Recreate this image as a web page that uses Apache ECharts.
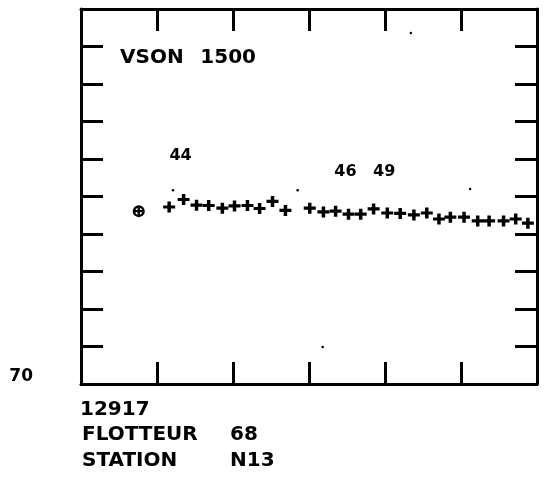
<!DOCTYPE html>
<html>
<head>
<meta charset="utf-8">
<script src="https://cdn.jsdelivr.net/npm/echarts@6/dist/echarts.min.js"></script>
<style>
html,body{margin:0;padding:0;background:#fff;}
#chart{width:545px;height:482px;}
</style>
</head>
<body>
<div id="chart"></div>
<script>
// ---- data ----
const xMin = 0, xMax = 60, xStep = 10;
const yMin = 70, yMax = 80, yStep = 1;
const yTickLabels = ['70'];

const startX = [7.6];
const startY = [74.61];

const crossX = [11.6, 13.5, 15.2, 16.8, 18.6, 20.2, 21.9, 23.5, 25.2, 26.9,
                30.1, 31.9, 33.5, 35.2, 36.8, 38.5, 40.3, 42.0, 43.8, 45.5,
                47.1, 48.6, 50.4, 52.2, 53.7, 55.6, 57.2, 58.8];
const crossY = [74.72, 74.92, 74.77, 74.76, 74.69, 74.75, 74.76, 74.68, 74.87, 74.63,
                74.69, 74.59, 74.61, 74.53, 74.53, 74.67, 74.56, 74.55, 74.51, 74.56,
                74.40, 74.45, 74.45, 74.35, 74.35, 74.35, 74.40, 74.29];

const noteX = [13.1, 34.8, 39.9];
const noteY = [76.08, 75.65, 75.65];
const noteText = ['44', '46', '49'];

const dotX = [12.1, 28.5, 51.2, 43.4, 31.8];
const dotY = [75.17, 75.17, 75.20, 79.36, 70.99];

const titleText = ['VSON', '1500'];
const footText = ['12917', 'FLOTTEUR', '68', 'STATION', 'N13'];

// ---- chart ----
const FONT = 'DejaVu Sans';
const zip = (a, b) => a.map((v, i) => [v, b[i]]);
const plus = 'path://M4.25,0 L7.75,0 L7.75,4.25 L12,4.25 L12,7.75 L7.75,7.75 L7.75,12 L4.25,12 L4.25,7.75 L0,7.75 L0,4.25 L4.25,4.25 Z';

function xAx(pos) {
  return {
    type: 'value', min: xMin, max: xMax, interval: xStep, position: pos,
    axisLine: {show: true, onZero: false, lineStyle: {color: '#000', width: 3}},
    axisTick: {show: true, inside: true, length: 22, lineStyle: {color: '#000', width: 3}},
    axisLabel: {show: false}, splitLine: {show: false}
  };
}
function yAx(pos, labels) {
  return {
    type: 'value', min: yMin, max: yMax, interval: yStep, position: pos,
    axisLine: {show: true, onZero: false, lineStyle: {color: '#000', width: 3}},
    axisTick: {show: true, inside: true, length: 22, lineStyle: {color: '#000', width: 3}},
    axisLabel: labels ? {
      show: true, margin: 48, color: '#000', fontFamily: FONT, fontWeight: 'bold', fontSize: 17,
      verticalAlign: 'bottom', lineHeight: 15,
      formatter: v => (yTickLabels.indexOf(String(v)) >= 0 ? String(v) : '')
    } : {show: false},
    splitLine: {show: false}
  };
}

const chart = echarts.init(document.getElementById('chart'));
const txt = (text, x, y, size, align) => ({
  type: 'text', x: x, y: y,
  style: {text: text, fill: '#000', font: 'bold ' + size + 'px "' + FONT + '"',
          align: align || 'left', verticalAlign: 'middle'}
});
const solid = {color: '#000', opacity: 1};

chart.setOption({
  animation: false,
  backgroundColor: '#fff',
  grid: {left: 81, right: 8, top: 9, bottom: 98, containLabel: false},
  xAxis: [xAx('bottom'), xAx('top')],
  yAxis: [yAx('left', true), yAx('right', false)],
  series: [
    {type: 'scatter', data: zip(startX, startY), symbol: 'circle', symbolSize: 12,
     itemStyle: solid, z: 3},
    {type: 'scatter', data: zip(startX, startY), symbol: 'circle', symbolSize: 7,
     itemStyle: {color: '#fff', opacity: 1}, z: 4},
    {type: 'scatter', data: zip(startX, startY), symbol: plus, symbolSize: 8,
     itemStyle: solid, z: 5},
    {type: 'scatter', data: zip(crossX, crossY), symbol: plus, symbolSize: [12, 11],
     itemStyle: solid, z: 3},
    {type: 'scatter', data: zip(dotX, dotY), symbol: 'circle', symbolSize: 2.5,
     itemStyle: solid, z: 3},
    {type: 'scatter', data: zip(noteX, noteY), symbolSize: 0,
     itemStyle: solid,
     label: {show: true, position: 'inside', color: '#000', fontFamily: FONT,
             fontWeight: 'bold', fontSize: 16,
             formatter: p => noteText[p.dataIndex]}, z: 6}
  ],
  graphic: [
    txt(titleText[0], 120, 58, 20),
    txt(titleText[1], 256, 58, 20, 'right'),
    txt(footText[0], 80, 410, 20),
    txt(footText[1], 82, 435, 20),
    txt(footText[2], 230, 435, 20),
    txt(footText[3], 82, 461, 20),
    txt(footText[4], 230, 461, 20)
  ]
});
</script>
</body>
</html>
